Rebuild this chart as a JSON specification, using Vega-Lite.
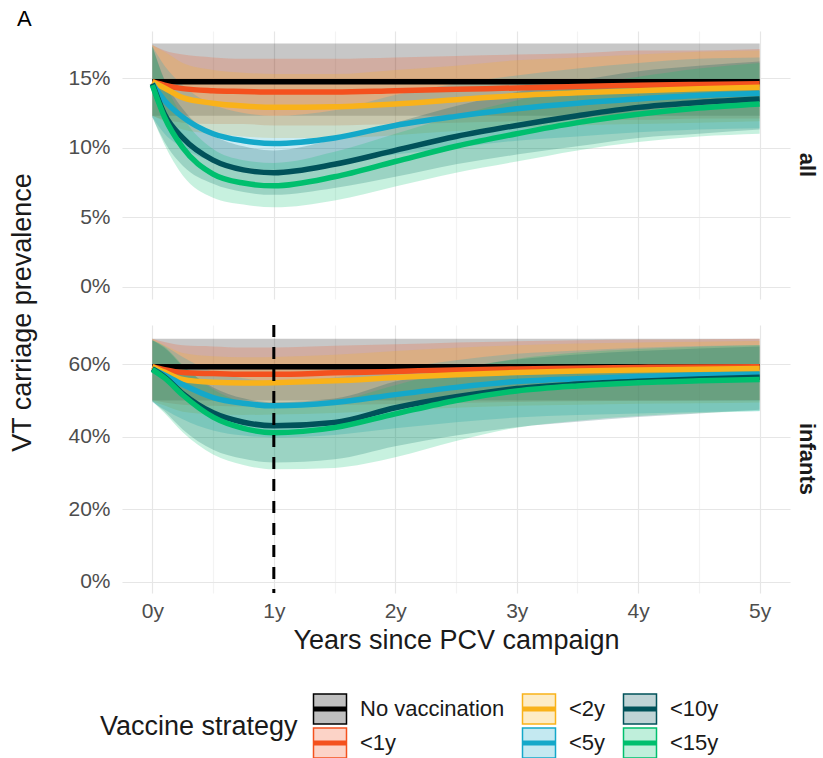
{
  "$schema": "https://vega.github.io/schema/vega-lite/v6.json",
  "background": "white",
  "padding": {"left": 8, "top": 8, "right": 4, "bottom": 0},
  "title": {"text": "A", "anchor": "start", "frame": "bounds", "fontSize": 22, "fontWeight": "normal", "color": "#000000", "font": "Liberation Sans", "offset": 0, "dx": 9},
  "datasets": {
    "prev": [
      {"panel": "all", "strategy": "No vaccination", "t": 0, "mean": 14.75, "lo": 12.3, "hi": 17.5},
      {"panel": "all", "strategy": "No vaccination", "t": 0.1, "mean": 14.75, "lo": 12.3, "hi": 17.5},
      {"panel": "all", "strategy": "No vaccination", "t": 0.25, "mean": 14.75, "lo": 12.3, "hi": 17.5},
      {"panel": "all", "strategy": "No vaccination", "t": 0.5, "mean": 14.75, "lo": 12.3, "hi": 17.5},
      {"panel": "all", "strategy": "No vaccination", "t": 0.75, "mean": 14.75, "lo": 12.3, "hi": 17.5},
      {"panel": "all", "strategy": "No vaccination", "t": 1, "mean": 14.75, "lo": 12.3, "hi": 17.5},
      {"panel": "all", "strategy": "No vaccination", "t": 1.5, "mean": 14.75, "lo": 12.3, "hi": 17.5},
      {"panel": "all", "strategy": "No vaccination", "t": 2, "mean": 14.75, "lo": 12.3, "hi": 17.5},
      {"panel": "all", "strategy": "No vaccination", "t": 2.5, "mean": 14.75, "lo": 12.3, "hi": 17.5},
      {"panel": "all", "strategy": "No vaccination", "t": 3, "mean": 14.75, "lo": 12.3, "hi": 17.5},
      {"panel": "all", "strategy": "No vaccination", "t": 3.5, "mean": 14.75, "lo": 12.3, "hi": 17.5},
      {"panel": "all", "strategy": "No vaccination", "t": 4, "mean": 14.75, "lo": 12.3, "hi": 17.5},
      {"panel": "all", "strategy": "No vaccination", "t": 4.5, "mean": 14.75, "lo": 12.3, "hi": 17.5},
      {"panel": "all", "strategy": "No vaccination", "t": 5, "mean": 14.75, "lo": 12.3, "hi": 17.5},

      {"panel": "all", "strategy": "<1y", "t": 0, "mean": 14.75, "lo": 12.3, "hi": 17.4},
      {"panel": "all", "strategy": "<1y", "t": 0.1, "mean": 14.5, "lo": 12.0, "hi": 17.0},
      {"panel": "all", "strategy": "<1y", "t": 0.25, "mean": 14.25, "lo": 11.8, "hi": 16.7},
      {"panel": "all", "strategy": "<1y", "t": 0.5, "mean": 14.1, "lo": 11.7, "hi": 16.5},
      {"panel": "all", "strategy": "<1y", "t": 0.75, "mean": 14.05, "lo": 11.7, "hi": 16.4},
      {"panel": "all", "strategy": "<1y", "t": 1, "mean": 14.0, "lo": 11.6, "hi": 16.4},
      {"panel": "all", "strategy": "<1y", "t": 1.5, "mean": 14.0, "lo": 11.6, "hi": 16.4},
      {"panel": "all", "strategy": "<1y", "t": 2, "mean": 14.1, "lo": 11.7, "hi": 16.5},
      {"panel": "all", "strategy": "<1y", "t": 2.5, "mean": 14.2, "lo": 11.8, "hi": 16.6},
      {"panel": "all", "strategy": "<1y", "t": 3, "mean": 14.3, "lo": 11.9, "hi": 16.7},
      {"panel": "all", "strategy": "<1y", "t": 3.5, "mean": 14.4, "lo": 12.0, "hi": 16.8},
      {"panel": "all", "strategy": "<1y", "t": 4, "mean": 14.5, "lo": 12.0, "hi": 17.0},
      {"panel": "all", "strategy": "<1y", "t": 4.5, "mean": 14.55, "lo": 12.1, "hi": 17.0},
      {"panel": "all", "strategy": "<1y", "t": 5, "mean": 14.6, "lo": 12.1, "hi": 17.1},

      {"panel": "all", "strategy": "<2y", "t": 0, "mean": 14.75, "lo": 12.3, "hi": 17.4},
      {"panel": "all", "strategy": "<2y", "t": 0.1, "mean": 14.3, "lo": 11.9, "hi": 16.9},
      {"panel": "all", "strategy": "<2y", "t": 0.25, "mean": 13.6, "lo": 11.3, "hi": 16.1},
      {"panel": "all", "strategy": "<2y", "t": 0.5, "mean": 13.2, "lo": 11.0, "hi": 15.6},
      {"panel": "all", "strategy": "<2y", "t": 0.75, "mean": 13.0, "lo": 10.8, "hi": 15.4},
      {"panel": "all", "strategy": "<2y", "t": 1, "mean": 12.9, "lo": 10.7, "hi": 15.3},
      {"panel": "all", "strategy": "<2y", "t": 1.5, "mean": 12.95, "lo": 10.7, "hi": 15.3},
      {"panel": "all", "strategy": "<2y", "t": 2, "mean": 13.15, "lo": 10.9, "hi": 15.6},
      {"panel": "all", "strategy": "<2y", "t": 2.5, "mean": 13.45, "lo": 11.2, "hi": 15.9},
      {"panel": "all", "strategy": "<2y", "t": 3, "mean": 13.75, "lo": 11.4, "hi": 16.3},
      {"panel": "all", "strategy": "<2y", "t": 3.5, "mean": 13.95, "lo": 11.6, "hi": 16.5},
      {"panel": "all", "strategy": "<2y", "t": 4, "mean": 14.1, "lo": 11.7, "hi": 16.7},
      {"panel": "all", "strategy": "<2y", "t": 4.5, "mean": 14.25, "lo": 11.8, "hi": 16.9},
      {"panel": "all", "strategy": "<2y", "t": 5, "mean": 14.35, "lo": 11.9, "hi": 17.0},

      {"panel": "all", "strategy": "<5y", "t": 0, "mean": 14.6, "lo": 12.2, "hi": 17.3},
      {"panel": "all", "strategy": "<5y", "t": 0.1, "mean": 13.4, "lo": 11.0, "hi": 15.9},
      {"panel": "all", "strategy": "<5y", "t": 0.25, "mean": 12.2, "lo": 10.0, "hi": 14.5},
      {"panel": "all", "strategy": "<5y", "t": 0.5, "mean": 11.0, "lo": 9.0, "hi": 13.1},
      {"panel": "all", "strategy": "<5y", "t": 0.75, "mean": 10.5, "lo": 8.6, "hi": 12.5},
      {"panel": "all", "strategy": "<5y", "t": 1, "mean": 10.3, "lo": 8.4, "hi": 12.3},
      {"panel": "all", "strategy": "<5y", "t": 1.5, "mean": 10.7, "lo": 8.8, "hi": 12.7},
      {"panel": "all", "strategy": "<5y", "t": 2, "mean": 11.6, "lo": 9.5, "hi": 13.8},
      {"panel": "all", "strategy": "<5y", "t": 2.5, "mean": 12.25, "lo": 10.0, "hi": 14.6},
      {"panel": "all", "strategy": "<5y", "t": 3, "mean": 12.8, "lo": 10.5, "hi": 15.2},
      {"panel": "all", "strategy": "<5y", "t": 3.5, "mean": 13.2, "lo": 10.8, "hi": 15.7},
      {"panel": "all", "strategy": "<5y", "t": 4, "mean": 13.5, "lo": 11.1, "hi": 16.1},
      {"panel": "all", "strategy": "<5y", "t": 4.5, "mean": 13.75, "lo": 11.3, "hi": 16.4},
      {"panel": "all", "strategy": "<5y", "t": 5, "mean": 13.9, "lo": 11.4, "hi": 16.5},

      {"panel": "all", "strategy": "<10y", "t": 0, "mean": 14.6, "lo": 12.2, "hi": 17.3},
      {"panel": "all", "strategy": "<10y", "t": 0.1, "mean": 12.4, "lo": 10.4, "hi": 14.9},
      {"panel": "all", "strategy": "<10y", "t": 0.25, "mean": 10.7, "lo": 8.7, "hi": 12.8},
      {"panel": "all", "strategy": "<10y", "t": 0.5, "mean": 9.1, "lo": 7.4, "hi": 10.9},
      {"panel": "all", "strategy": "<10y", "t": 0.75, "mean": 8.4, "lo": 6.8, "hi": 10.1},
      {"panel": "all", "strategy": "<10y", "t": 1, "mean": 8.2, "lo": 6.6, "hi": 9.8},
      {"panel": "all", "strategy": "<10y", "t": 1.5, "mean": 8.8, "lo": 7.1, "hi": 10.6},
      {"panel": "all", "strategy": "<10y", "t": 2, "mean": 9.8, "lo": 7.9, "hi": 11.8},
      {"panel": "all", "strategy": "<10y", "t": 2.5, "mean": 10.8, "lo": 8.8, "hi": 13.0},
      {"panel": "all", "strategy": "<10y", "t": 3, "mean": 11.6, "lo": 9.5, "hi": 14.0},
      {"panel": "all", "strategy": "<10y", "t": 3.5, "mean": 12.3, "lo": 10.1, "hi": 14.8},
      {"panel": "all", "strategy": "<10y", "t": 4, "mean": 12.9, "lo": 10.7, "hi": 15.5},
      {"panel": "all", "strategy": "<10y", "t": 4.5, "mean": 13.25, "lo": 11.0, "hi": 15.9},
      {"panel": "all", "strategy": "<10y", "t": 5, "mean": 13.5, "lo": 11.3, "hi": 16.2},

      {"panel": "all", "strategy": "<15y", "t": 0, "mean": 14.5, "lo": 12.2, "hi": 17.3},
      {"panel": "all", "strategy": "<15y", "t": 0.1, "mean": 12.2, "lo": 10.2, "hi": 14.8},
      {"panel": "all", "strategy": "<15y", "t": 0.25, "mean": 10.0, "lo": 8.0, "hi": 12.2},
      {"panel": "all", "strategy": "<15y", "t": 0.5, "mean": 8.1, "lo": 6.4, "hi": 9.9},
      {"panel": "all", "strategy": "<15y", "t": 0.75, "mean": 7.45, "lo": 5.9, "hi": 9.1},
      {"panel": "all", "strategy": "<15y", "t": 1, "mean": 7.25, "lo": 5.7, "hi": 8.9},
      {"panel": "all", "strategy": "<15y", "t": 1.5, "mean": 7.9, "lo": 6.2, "hi": 9.7},
      {"panel": "all", "strategy": "<15y", "t": 2, "mean": 9.0, "lo": 7.2, "hi": 11.0},
      {"panel": "all", "strategy": "<15y", "t": 2.5, "mean": 10.1, "lo": 8.2, "hi": 12.3},
      {"panel": "all", "strategy": "<15y", "t": 3, "mean": 11.0, "lo": 9.0, "hi": 13.4},
      {"panel": "all", "strategy": "<15y", "t": 3.5, "mean": 11.8, "lo": 9.8, "hi": 14.4},
      {"panel": "all", "strategy": "<15y", "t": 4, "mean": 12.4, "lo": 10.4, "hi": 15.1},
      {"panel": "all", "strategy": "<15y", "t": 4.5, "mean": 12.85, "lo": 10.8, "hi": 15.7},
      {"panel": "all", "strategy": "<15y", "t": 5, "mean": 13.15, "lo": 11.0, "hi": 16.1},

      {"panel": "infants", "strategy": "No vaccination", "t": 0, "mean": 59.3, "lo": 50.0, "hi": 67.0},
      {"panel": "infants", "strategy": "No vaccination", "t": 0.1, "mean": 59.3, "lo": 50.0, "hi": 67.0},
      {"panel": "infants", "strategy": "No vaccination", "t": 0.25, "mean": 59.3, "lo": 50.0, "hi": 67.0},
      {"panel": "infants", "strategy": "No vaccination", "t": 0.5, "mean": 59.3, "lo": 50.0, "hi": 67.0},
      {"panel": "infants", "strategy": "No vaccination", "t": 0.75, "mean": 59.3, "lo": 50.0, "hi": 67.0},
      {"panel": "infants", "strategy": "No vaccination", "t": 1, "mean": 59.3, "lo": 50.0, "hi": 67.0},
      {"panel": "infants", "strategy": "No vaccination", "t": 1.5, "mean": 59.3, "lo": 50.0, "hi": 67.0},
      {"panel": "infants", "strategy": "No vaccination", "t": 2, "mean": 59.3, "lo": 50.0, "hi": 67.0},
      {"panel": "infants", "strategy": "No vaccination", "t": 2.5, "mean": 59.3, "lo": 50.0, "hi": 67.0},
      {"panel": "infants", "strategy": "No vaccination", "t": 3, "mean": 59.3, "lo": 50.0, "hi": 67.0},
      {"panel": "infants", "strategy": "No vaccination", "t": 3.5, "mean": 59.3, "lo": 50.0, "hi": 67.0},
      {"panel": "infants", "strategy": "No vaccination", "t": 4, "mean": 59.3, "lo": 50.0, "hi": 67.0},
      {"panel": "infants", "strategy": "No vaccination", "t": 4.5, "mean": 59.3, "lo": 50.0, "hi": 67.0},
      {"panel": "infants", "strategy": "No vaccination", "t": 5, "mean": 59.3, "lo": 50.0, "hi": 67.0},

      {"panel": "infants", "strategy": "<1y", "t": 0, "mean": 59.3, "lo": 50.1, "hi": 67.0},
      {"panel": "infants", "strategy": "<1y", "t": 0.1, "mean": 58.5, "lo": 49.4, "hi": 66.1},
      {"panel": "infants", "strategy": "<1y", "t": 0.25, "mean": 57.7, "lo": 48.8, "hi": 65.2},
      {"panel": "infants", "strategy": "<1y", "t": 0.5, "mean": 57.4, "lo": 48.5, "hi": 64.9},
      {"panel": "infants", "strategy": "<1y", "t": 0.75, "mean": 57.2, "lo": 48.3, "hi": 64.6},
      {"panel": "infants", "strategy": "<1y", "t": 1, "mean": 57.2, "lo": 48.3, "hi": 64.6},
      {"panel": "infants", "strategy": "<1y", "t": 1.5, "mean": 57.6, "lo": 48.7, "hi": 65.1},
      {"panel": "infants", "strategy": "<1y", "t": 2, "mean": 58.0, "lo": 49.0, "hi": 65.5},
      {"panel": "infants", "strategy": "<1y", "t": 2.5, "mean": 58.4, "lo": 49.3, "hi": 66.0},
      {"panel": "infants", "strategy": "<1y", "t": 3, "mean": 58.7, "lo": 49.6, "hi": 66.3},
      {"panel": "infants", "strategy": "<1y", "t": 3.5, "mean": 58.9, "lo": 49.8, "hi": 66.6},
      {"panel": "infants", "strategy": "<1y", "t": 4, "mean": 59.1, "lo": 49.9, "hi": 66.8},
      {"panel": "infants", "strategy": "<1y", "t": 4.5, "mean": 59.2, "lo": 50.0, "hi": 66.9},
      {"panel": "infants", "strategy": "<1y", "t": 5, "mean": 59.3, "lo": 50.1, "hi": 67.0},

      {"panel": "infants", "strategy": "<2y", "t": 0, "mean": 59.3, "lo": 49.8, "hi": 67.0},
      {"panel": "infants", "strategy": "<2y", "t": 0.1, "mean": 57.8, "lo": 48.6, "hi": 65.3},
      {"panel": "infants", "strategy": "<2y", "t": 0.25, "mean": 55.8, "lo": 46.9, "hi": 63.1},
      {"panel": "infants", "strategy": "<2y", "t": 0.5, "mean": 55.0, "lo": 46.2, "hi": 62.2},
      {"panel": "infants", "strategy": "<2y", "t": 0.75, "mean": 54.8, "lo": 46.0, "hi": 61.9},
      {"panel": "infants", "strategy": "<2y", "t": 1, "mean": 54.9, "lo": 46.1, "hi": 62.0},
      {"panel": "infants", "strategy": "<2y", "t": 1.5, "mean": 55.4, "lo": 46.5, "hi": 62.6},
      {"panel": "infants", "strategy": "<2y", "t": 2, "mean": 56.3, "lo": 47.3, "hi": 63.6},
      {"panel": "infants", "strategy": "<2y", "t": 2.5, "mean": 57.1, "lo": 48.0, "hi": 64.5},
      {"panel": "infants", "strategy": "<2y", "t": 3, "mean": 57.7, "lo": 48.5, "hi": 65.2},
      {"panel": "infants", "strategy": "<2y", "t": 3.5, "mean": 58.1, "lo": 48.8, "hi": 65.7},
      {"panel": "infants", "strategy": "<2y", "t": 4, "mean": 58.4, "lo": 49.1, "hi": 66.0},
      {"panel": "infants", "strategy": "<2y", "t": 4.5, "mean": 58.6, "lo": 49.2, "hi": 66.2},
      {"panel": "infants", "strategy": "<2y", "t": 5, "mean": 58.8, "lo": 49.4, "hi": 66.4},

      {"panel": "infants", "strategy": "<5y", "t": 0, "mean": 58.7, "lo": 49.6, "hi": 66.6},
      {"panel": "infants", "strategy": "<5y", "t": 0.1, "mean": 57.0, "lo": 47.5, "hi": 65.0},
      {"panel": "infants", "strategy": "<5y", "t": 0.25, "mean": 54.4, "lo": 44.8, "hi": 62.0},
      {"panel": "infants", "strategy": "<5y", "t": 0.5, "mean": 50.8, "lo": 41.7, "hi": 57.9},
      {"panel": "infants", "strategy": "<5y", "t": 0.75, "mean": 49.2, "lo": 40.3, "hi": 56.1},
      {"panel": "infants", "strategy": "<5y", "t": 1, "mean": 48.5, "lo": 39.8, "hi": 55.3},
      {"panel": "infants", "strategy": "<5y", "t": 1.5, "mean": 49.4, "lo": 40.5, "hi": 56.3},
      {"panel": "infants", "strategy": "<5y", "t": 2, "mean": 51.6, "lo": 42.3, "hi": 58.8},
      {"panel": "infants", "strategy": "<5y", "t": 2.5, "mean": 53.6, "lo": 44.0, "hi": 61.1},
      {"panel": "infants", "strategy": "<5y", "t": 3, "mean": 55.2, "lo": 45.3, "hi": 62.9},
      {"panel": "infants", "strategy": "<5y", "t": 3.5, "mean": 56.0, "lo": 46.0, "hi": 63.8},
      {"panel": "infants", "strategy": "<5y", "t": 4, "mean": 56.6, "lo": 46.4, "hi": 64.5},
      {"panel": "infants", "strategy": "<5y", "t": 4.5, "mean": 57.0, "lo": 46.8, "hi": 65.0},
      {"panel": "infants", "strategy": "<5y", "t": 5, "mean": 57.2, "lo": 47.0, "hi": 65.2},

      {"panel": "infants", "strategy": "<10y", "t": 0, "mean": 58.7, "lo": 49.8, "hi": 66.6},
      {"panel": "infants", "strategy": "<10y", "t": 0.1, "mean": 56.5, "lo": 47.0, "hi": 64.5},
      {"panel": "infants", "strategy": "<10y", "t": 0.25, "mean": 51.9, "lo": 42.0, "hi": 59.5},
      {"panel": "infants", "strategy": "<10y", "t": 0.5, "mean": 46.6, "lo": 36.4, "hi": 53.6},
      {"panel": "infants", "strategy": "<10y", "t": 0.75, "mean": 44.0, "lo": 33.9, "hi": 50.6},
      {"panel": "infants", "strategy": "<10y", "t": 1, "mean": 43.0, "lo": 32.9, "hi": 49.5},
      {"panel": "infants", "strategy": "<10y", "t": 1.5, "mean": 43.9, "lo": 33.8, "hi": 50.5},
      {"panel": "infants", "strategy": "<10y", "t": 2, "mean": 48.0, "lo": 37.4, "hi": 55.2},
      {"panel": "infants", "strategy": "<10y", "t": 2.5, "mean": 51.0, "lo": 40.3, "hi": 58.7},
      {"panel": "infants", "strategy": "<10y", "t": 3, "mean": 53.3, "lo": 42.6, "hi": 61.3},
      {"panel": "infants", "strategy": "<10y", "t": 3.5, "mean": 54.5, "lo": 44.1, "hi": 62.7},
      {"panel": "infants", "strategy": "<10y", "t": 4, "mean": 55.3, "lo": 45.4, "hi": 63.6},
      {"panel": "infants", "strategy": "<10y", "t": 4.5, "mean": 55.9, "lo": 46.4, "hi": 64.3},
      {"panel": "infants", "strategy": "<10y", "t": 5, "mean": 56.4, "lo": 47.4, "hi": 64.9},

      {"panel": "infants", "strategy": "<15y", "t": 0, "mean": 58.5, "lo": 49.8, "hi": 66.6},
      {"panel": "infants", "strategy": "<15y", "t": 0.1, "mean": 56.2, "lo": 46.5, "hi": 64.8},
      {"panel": "infants", "strategy": "<15y", "t": 0.25, "mean": 51.5, "lo": 41.2, "hi": 59.8},
      {"panel": "infants", "strategy": "<15y", "t": 0.5, "mean": 45.4, "lo": 35.1, "hi": 53.1},
      {"panel": "infants", "strategy": "<15y", "t": 0.75, "mean": 42.3, "lo": 32.2, "hi": 49.5},
      {"panel": "infants", "strategy": "<15y", "t": 1, "mean": 41.1, "lo": 31.0, "hi": 48.1},
      {"panel": "infants", "strategy": "<15y", "t": 1.5, "mean": 42.5, "lo": 31.4, "hi": 49.7},
      {"panel": "infants", "strategy": "<15y", "t": 2, "mean": 46.3, "lo": 34.3, "hi": 54.2},
      {"panel": "infants", "strategy": "<15y", "t": 2.5, "mean": 50.0, "lo": 38.8, "hi": 58.5},
      {"panel": "infants", "strategy": "<15y", "t": 3, "mean": 52.6, "lo": 42.5, "hi": 61.5},
      {"panel": "infants", "strategy": "<15y", "t": 3.5, "mean": 54.0, "lo": 44.4, "hi": 63.2},
      {"panel": "infants", "strategy": "<15y", "t": 4, "mean": 54.9, "lo": 45.7, "hi": 64.2},
      {"panel": "infants", "strategy": "<15y", "t": 4.5, "mean": 55.4, "lo": 46.5, "hi": 64.8},
      {"panel": "infants", "strategy": "<15y", "t": 5, "mean": 55.8, "lo": 47.1, "hi": 65.3}
    ]
  },
  "bounds": "flush",
  "spacing": 26,
  "vconcat": [
    {
      "width": 668,
      "height": 268,
      "title": {"text": "all", "orient": "right", "angle": 90, "anchor": "middle", "fontSize": 22, "fontWeight": "bold", "color": "#1a1a1a", "font": "Liberation Sans", "offset": 5},
      "data": {"name": "prev"},
      "transform": [{"filter": "datum.panel === 'all'"}],
      "encoding": {
        "x": {
          "field": "t", "type": "quantitative",
          "scale": {"domain": [-0.25, 5.25], "nice": false, "zero": false},
          "axis": {
            "title": null, "labels": false,
            "values": [0, 0.5, 1, 1.5, 2, 2.5, 3, 3.5, 4, 4.5, 5],
            "gridColor": {"condition": {"test": "datum.value % 1 !== 0", "value": "#f3f3f3"}, "value": "#e6e6e6"}
          }
        },
        "color": {
          "field": "strategy", "type": "nominal",
          "scale": {
            "domain": ["No vaccination", "<2y", "<10y", "<1y", "<5y", "<15y"],
            "range": ["#000000", "#F9B21A", "#00525A", "#F4511E", "#14A8C9", "#00BF6E"]
          },
          "legend": {
            "title": "Vaccine strategy",
            "orient": "none", "legendX": -22, "legendY": 662,
            "encode": {
              "symbols": {
                "update": {
                  "fill": {"scale": "color", "field": "value"},
                  "stroke": {"scale": "color", "field": "value"},
                  "fillOpacity": {"value": 0.25},
                  "strokeWidth": {"value": 1.5},
                  "opacity": {"value": 1}
                }
              }
            }
          }
        }
      },
      "layer": [
        {
          "mark": {"type": "area", "fillOpacity": 0.22, "interpolate": "monotone"},
          "encoding": {
            "y": {
              "field": "lo", "type": "quantitative",
              "scale": {"domain": [-0.9, 18.4], "nice": false, "zero": false},
              "axis": {
                "title": "VT carriage prevalence",
                "titleX": -100, "titleY": 281, "titleAngle": -90,
                "titleBaseline": "middle", "titleAlign": "center",
                "values": [0, 2.5, 5, 7.5, 10, 12.5, 15, 17.5],
                "labelExpr": "datum.value % 5 === 0 ? datum.value + '%' : ''",
                "gridColor": {"condition": {"test": "datum.value % 5 !== 0", "value": "#f3f3f3"}, "value": "#e6e6e6"}
              }
            },
            "y2": {"field": "hi"}
          }
        },
        {
          "mark": {"type": "line", "strokeWidth": 5.5, "interpolate": "monotone", "strokeCap": "butt"},
          "encoding": {
            "y": {"field": "mean", "type": "quantitative"}
          }
        }
      ]
    },
    {
      "width": 668,
      "height": 268,
      "title": {"text": "infants", "orient": "right", "angle": 90, "anchor": "middle", "fontSize": 22, "fontWeight": "bold", "color": "#1a1a1a", "font": "Liberation Sans", "offset": 5},
      "data": {"name": "prev"},
      "transform": [{"filter": "datum.panel === 'infants'"}],
      "encoding": {
        "x": {
          "field": "t", "type": "quantitative",
          "scale": {"domain": [-0.25, 5.25], "nice": false, "zero": false},
          "axis": {
            "title": "Years since PCV campaign",
            "values": [0, 0.5, 1, 1.5, 2, 2.5, 3, 3.5, 4, 4.5, 5],
            "labelExpr": "datum.value % 1 === 0 ? datum.value + 'y' : ''",
            "labelPadding": 7, "titlePadding": 6,
            "gridColor": {"condition": {"test": "datum.value % 1 !== 0", "value": "#f3f3f3"}, "value": "#e6e6e6"}
          }
        }
      },
      "layer": [
        {
          "mark": {"type": "area", "fillOpacity": 0.22, "interpolate": "monotone"},
          "encoding": {
            "y": {
              "field": "lo", "type": "quantitative",
              "scale": {"domain": [-3.1, 70.8], "nice": false, "zero": false},
              "axis": {
                "title": null,
                "values": [0, 10, 20, 30, 40, 50, 60, 70],
                "labelExpr": "datum.value % 20 === 0 ? datum.value + '%' : ''",
                "gridColor": {"condition": {"test": "datum.value % 20 !== 0", "value": "#f3f3f3"}, "value": "#e6e6e6"}
              }
            },
            "y2": {"field": "hi"},
            "color": {"field": "strategy", "type": "nominal"}
          }
        },
        {
          "mark": {"type": "line", "strokeWidth": 5.5, "interpolate": "monotone", "strokeCap": "butt"},
          "encoding": {
            "y": {"field": "mean", "type": "quantitative"},
            "color": {"field": "strategy", "type": "nominal"}
          }
        },
        {
          "data": {"values": [{"t": 1}]},
          "mark": {"type": "rule", "color": "#000000", "strokeWidth": 3, "strokeDash": [12, 10]},
          "encoding": {}
        }
      ]
    }
  ],
  "config": {
    "font": "Liberation Sans",
    "view": {"stroke": null},
    "axis": {
      "domain": false, "ticks": false, "tickSize": 0,
      "labelFont": "Liberation Sans", "labelFontSize": 21, "labelColor": "#4d4d4d", "labelPadding": 12,
      "titleFont": "Liberation Sans", "titleFontSize": 27, "titleFontWeight": "normal", "titleColor": "#1a1a1a",
      "gridWidth": 1.2
    },
    "legend": {
      "direction": "horizontal", "columns": 3,
      "titleOrient": "left", "titleAnchor": "middle", "titleBaseline": "middle", "titleLimit": 400,
      "titleFont": "Liberation Sans", "titleFontSize": 27, "titleFontWeight": "normal", "titleColor": "#1a1a1a", "titlePadding": 16,
      "labelFont": "Liberation Sans", "labelFontSize": 22, "labelColor": "#1a1a1a", "labelOffset": 14, "labelLimit": 300,
      "symbolType": "M-1.1,-1H1.1V1H-1.1Z M-1.1,-0.12H1.1 M-1.1,-0.04H1.1 M-1.1,0.04H1.1 M-1.1,0.12H1.1",
      "symbolSize": 900, "symbolStrokeWidth": 1.5,
      "rowPadding": -4, "columnPadding": 14
    }
  }
}
